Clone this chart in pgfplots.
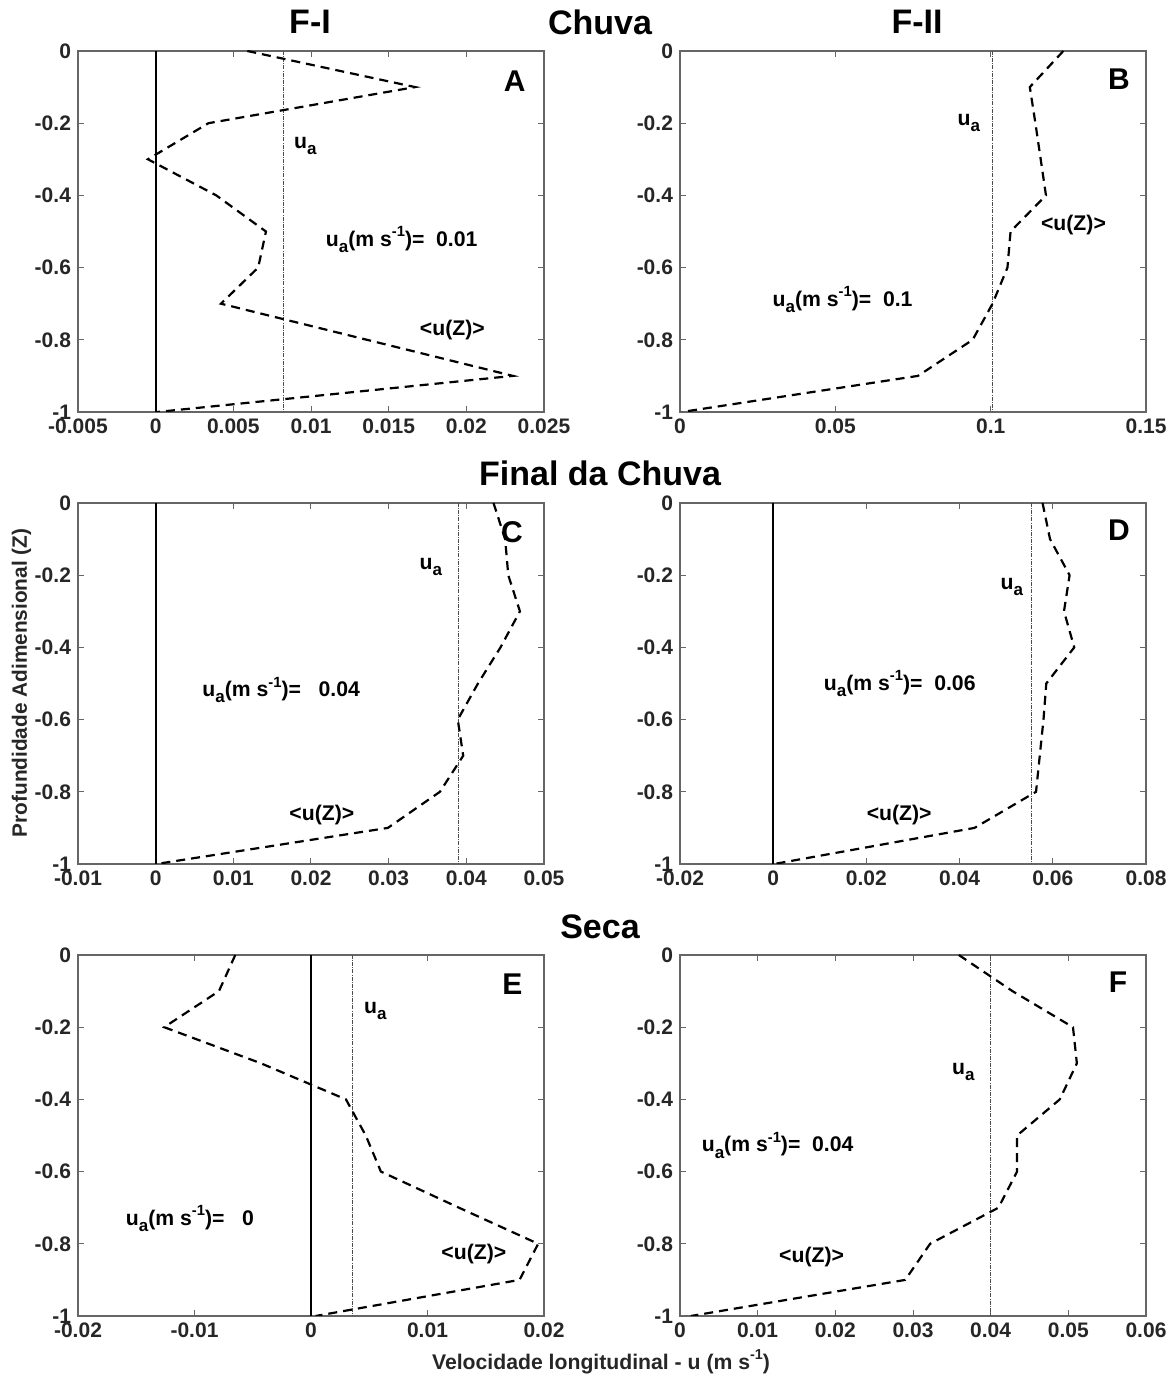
\documentclass[border=0pt]{standalone}
\usepackage{fontspec}
\setmainfont{Liberation Sans}
\usepackage{pgfplots}
\pgfplotsset{compat=1.18}

\newcommand{\ua}{u\raisebox{-0.55ex}{\fontsize{8.5}{9}\selectfont a}}
\newcommand{\eqlab}[1]{\ua(m s\raisebox{0.85ex}{\fontsize{7.4}{8}\selectfont -1})=#1}

\pgfplotsset{
  panel/.style={
    scale only axis, width=233pt, height=180.5pt, anchor=south west,
    ymin=-1, ymax=0,
    ytick={-1,-0.8,-0.6,-0.4,-0.2,0},
    yticklabels={-1,-0.8,-0.6,-0.4,-0.2,0},
    axis line style={draw=black!60, line width=0.6pt},
    tick style={draw=black!60, line width=0.5pt},
    major tick length=3pt, tick align=inside,
    xtick pos=both, ytick pos=both,
    tick label style={font=\fontsize{10.5}{12}\selectfont\bfseries, text=black!85},
    scaled ticks=false,
  },
  prof/.style={black, line width=1.1pt, dash pattern=on 4.5pt off 3pt},
  zero/.style={black, line width=1pt},
  ualine/.style={black!70, line width=0.45pt, dash pattern=on 2pt off 0.6pt on 0.4pt off 0.6pt},
}
\tikzset{
  lett/.style={font=\fontsize{15}{16}\selectfont\bfseries},
  ann/.style={font=\fontsize{10.6}{11}\selectfont\bfseries, inner sep=0pt},
  ttl/.style={font=\fontsize{17}{18}\selectfont\bfseries},
}

\begin{document}
\begin{tikzpicture}
\path[use as bounding box] (0,0) rectangle (587.5pt,688pt);

% titles
\node[ttl] at (155pt,677pt) {F-I};
\node[ttl] at (300pt,677pt) {Chuva};
\node[ttl] at (458.5pt,677pt) {F-II};
\node[ttl] at (300pt,451.5pt) {Final da Chuva};
\node[ttl] at (300pt,224.5pt) {Seca};
\node[font=\fontsize{10.4}{12}\selectfont\bfseries, text=black!85, rotate=90] at (10.75pt,346.5pt) {Profundidade Adimensional (Z)};
\node[font=\fontsize{10.6}{12}\selectfont\bfseries, text=black!85] at (300.5pt,7pt) {Velocidade longitudinal - u (m s\raisebox{0.85ex}{\fontsize{7.2}{7}\selectfont -1})};

% A
\begin{axis}[panel, at={(39pt,482pt)},
  xmin=-0.005, xmax=0.025,
  xtick={-0.005,0,0.005,0.01,0.015,0.02,0.025},
  xticklabels={-0.005,0,0.005,0.01,0.015,0.02,0.025}]
\addplot[zero] coordinates {(0,0) (0,-1)};
\addplot[ualine] coordinates {(0.0082,0) (0.0082,-1)};
\addplot[prof] coordinates {(0.0059,0) (0.0167,-0.1) (0.0034,-0.2) (-0.0005,-0.3) (0.0039,-0.4) (0.0071,-0.5) (0.0066,-0.6) (0.0042,-0.7) (0.0136,-0.8) (0.0230,-0.9) (0.0001,-1)};
\node[lett] at (rel axis cs:0.937,0.917) {A};
\node[ann] at (rel axis cs:0.488,0.737) {\ua};
\node[ann, anchor=west] at (rel axis cs:0.531,0.478) {\eqlab{\ \ 0.01}};
\node[ann, anchor=west] at (rel axis cs:0.733,0.228) {<u(Z)>};
\end{axis}

% B
\begin{axis}[panel, at={(340pt,482pt)},
  xmin=0, xmax=0.15,
  xtick={0,0.05,0.1,0.15},
  xticklabels={0,0.05,0.1,0.15}]
\addplot[ualine] coordinates {(0.1006,0) (0.1006,-1)};
\addplot[prof] coordinates {(0.1234,0) (0.1126,-0.1) (0.1144,-0.2) (0.1161,-0.3) (0.1178,-0.4) (0.1064,-0.5) (0.1054,-0.6) (0.1006,-0.7) (0.0942,-0.8) (0.0766,-0.9) (0.0006,-1)};
\node[lett] at (rel axis cs:0.942,0.921) {B};
\node[ann] at (rel axis cs:0.62,0.801) {\ua};
\node[ann, anchor=west] at (rel axis cs:0.198,0.311) {\eqlab{\ \ 0.1}};
\node[ann, anchor=west] at (rel axis cs:0.774,0.519) {<u(Z)>};
\end{axis}

% C
\begin{axis}[panel, at={(39pt,256pt)},
  xmin=-0.01, xmax=0.05,
  xtick={-0.01,0,0.01,0.02,0.03,0.04,0.05},
  xticklabels={-0.01,0,0.01,0.02,0.03,0.04,0.05}]
\addplot[zero] coordinates {(0,0) (0,-1)};
\addplot[ualine] coordinates {(0.0390,0) (0.0390,-1)};
\addplot[prof] coordinates {(0.0435,0) (0.0450,-0.1) (0.0454,-0.2) (0.0469,-0.3) (0.0444,-0.4) (0.0415,-0.5) (0.0389,-0.6) (0.0396,-0.7) (0.0366,-0.8) (0.0299,-0.9) (0.0001,-1)};
\node[lett] at (rel axis cs:0.931,0.92) {C};
\node[ann] at (rel axis cs:0.757,0.823) {\ua};
\node[ann, anchor=west] at (rel axis cs:0.266,0.482) {\eqlab{\ \ \ 0.04}};
\node[ann, anchor=west] at (rel axis cs:0.453,0.135) {<u(Z)>};
\end{axis}

% D
\begin{axis}[panel, at={(340pt,256pt)},
  xmin=-0.02, xmax=0.08,
  xtick={-0.02,0,0.02,0.04,0.06,0.08},
  xticklabels={-0.02,0,0.02,0.04,0.06,0.08}]
\addplot[zero] coordinates {(0,0) (0,-1)};
\addplot[ualine] coordinates {(0.0554,0) (0.0554,-1)};
\addplot[prof] coordinates {(0.0578,0) (0.0594,-0.1) (0.0636,-0.2) (0.0624,-0.3) (0.0646,-0.4) (0.0586,-0.5) (0.0580,-0.6) (0.0572,-0.7) (0.0564,-0.8) (0.0432,-0.9) (0.0002,-1)};
\node[lett] at (rel axis cs:0.942,0.924) {D};
\node[ann] at (rel axis cs:0.712,0.768) {\ua};
\node[ann, anchor=west] at (rel axis cs:0.308,0.50) {\eqlab{\ \ 0.06}};
\node[ann, anchor=west] at (rel axis cs:0.40,0.136) {<u(Z)>};
\end{axis}

% E
\begin{axis}[panel, at={(39pt,30pt)},
  xmin=-0.02, xmax=0.02,
  xtick={-0.02,-0.01,0,0.01,0.02},
  xticklabels={-0.02,-0.01,0,0.01,0.02}]
\addplot[zero] coordinates {(0,0) (0,-1)};
\addplot[ualine] coordinates {(0.0036,0) (0.0036,-1)};
\addplot[prof] coordinates {(-0.0065,0) (-0.0079,-0.1) (-0.0126,-0.2) (-0.0043,-0.3) (0.0030,-0.4) (0.0047,-0.5) (0.0060,-0.6) (0.0127,-0.7) (0.0195,-0.8) (0.0179,-0.9) (0.0004,-1)};
\node[lett] at (rel axis cs:0.932,0.92) {E};
\node[ann] at (rel axis cs:0.638,0.846) {\ua};
\node[ann, anchor=west] at (rel axis cs:0.102,0.27) {\eqlab{\ \ \ 0}};
\node[ann, anchor=west] at (rel axis cs:0.779,0.173) {<u(Z)>};
\end{axis}

% F
\begin{axis}[panel, at={(340pt,30pt)},
  xmin=0, xmax=0.06,
  xtick={0,0.01,0.02,0.03,0.04,0.05,0.06},
  xticklabels={0,0.01,0.02,0.03,0.04,0.05,0.06}]
\addplot[ualine] coordinates {(0.0400,0) (0.0400,-1)};
\addplot[prof] coordinates {(0.0359,0) (0.0428,-0.1) (0.0506,-0.2) (0.0511,-0.3) (0.0489,-0.4) (0.0434,-0.5) (0.0434,-0.6) (0.0410,-0.7) (0.0322,-0.8) (0.0290,-0.9) (0.0014,-1)};
\node[lett] at (rel axis cs:0.94,0.924) {F};
\node[ann] at (rel axis cs:0.608,0.676) {\ua};
\node[ann, anchor=west] at (rel axis cs:0.046,0.473) {\eqlab{\ \ 0.04}};
\node[ann, anchor=west] at (rel axis cs:0.212,0.162) {<u(Z)>};
\end{axis}
\end{tikzpicture}
\end{document}
